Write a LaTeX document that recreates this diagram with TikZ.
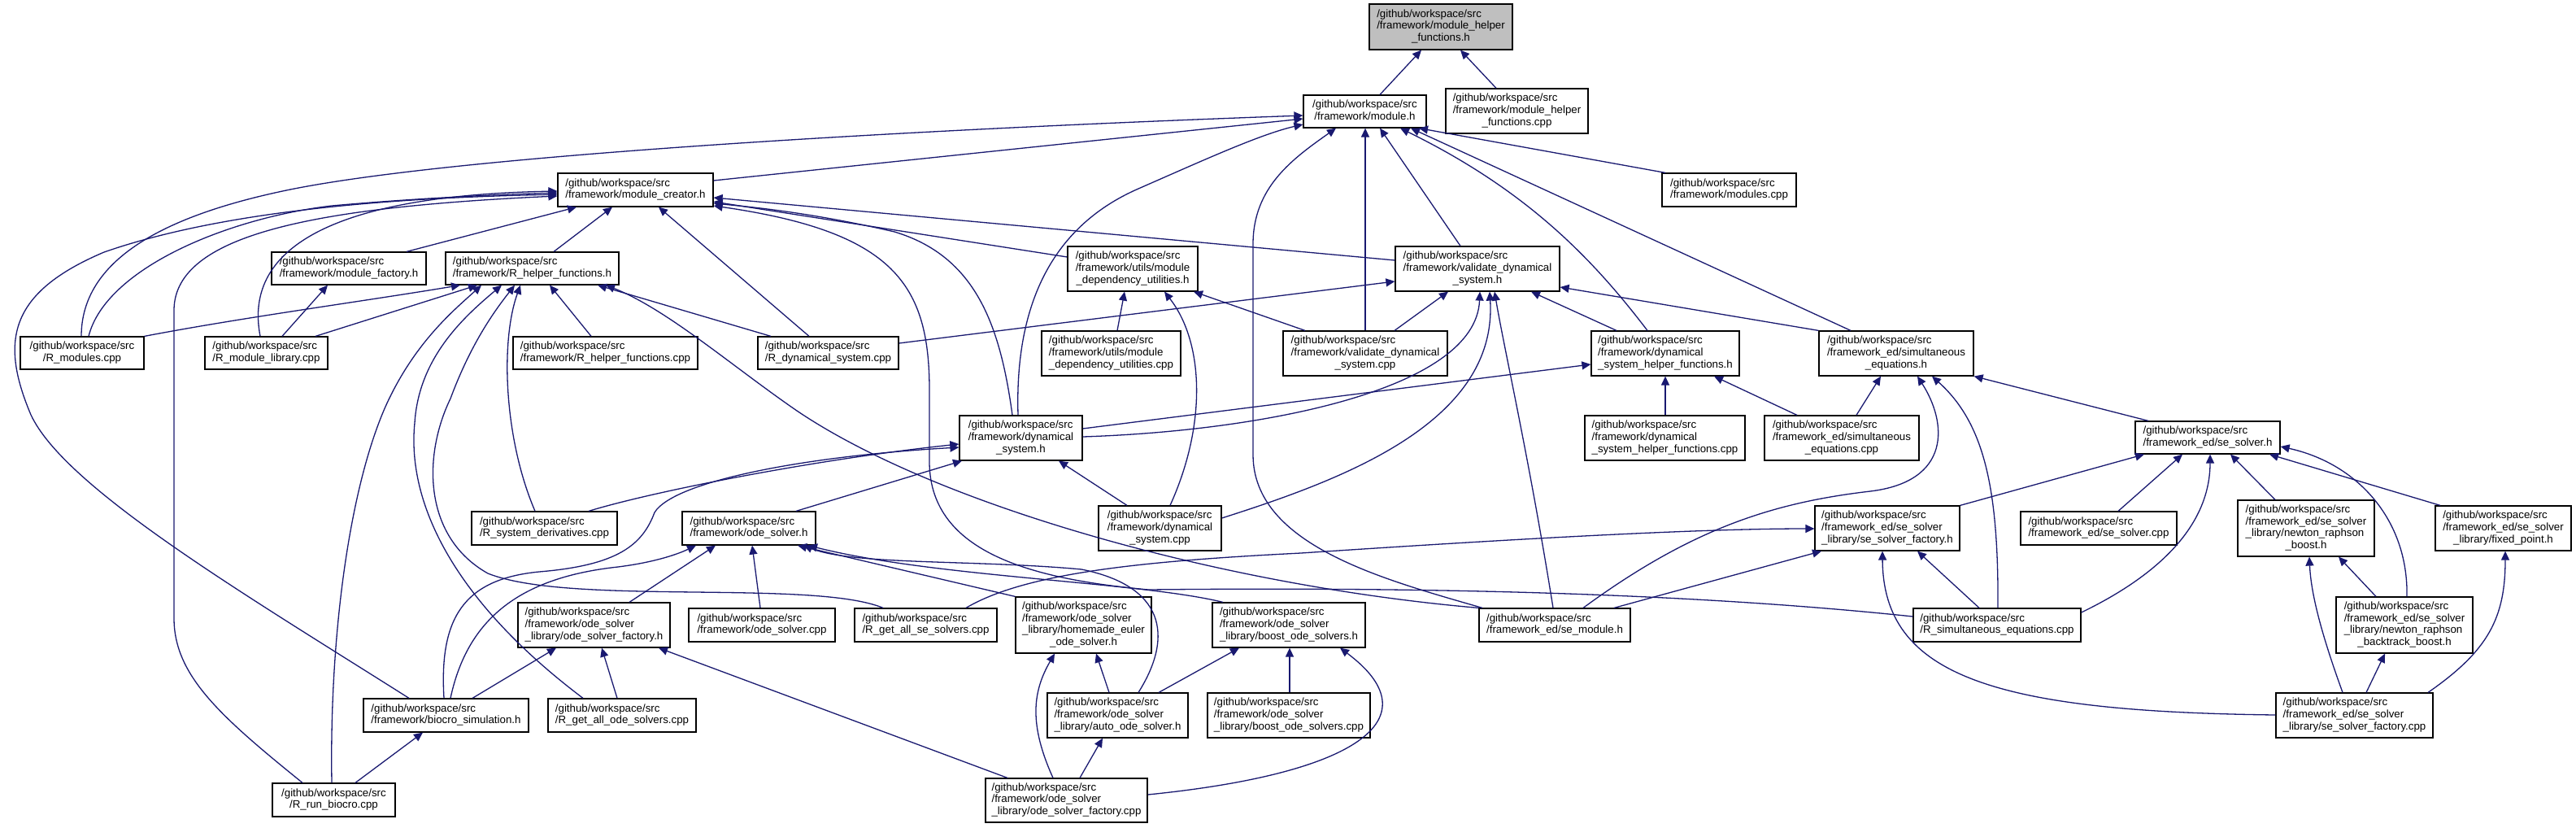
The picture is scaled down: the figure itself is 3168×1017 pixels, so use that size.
\documentclass[tikz,border=0pt]{standalone}
\usepackage{fontspec}
\setmainfont{Liberation Sans}
\usetikzlibrary{arrows.meta}
\definecolor{edgecol}{HTML}{191970}
\definecolor{topfill}{HTML}{BFBFBF}
\newcommand{\lab}[2]{\begin{tabular}{@{}l@{}}#1\\\multicolumn{1}{@{}c@{}}{#2}\end{tabular}}
\begin{document}
\begin{tikzpicture}[x=0.5pt,y=-0.5pt,
  box/.style={draw=black,line width=0.6pt,fill=white,inner sep=0pt,font=\fontsize{6.65pt}{7.35pt}\selectfont},
  e/.style={draw=edgecol,line width=0.65pt,-{Triangle[length=5.5pt,width=5pt]}}]
\fill[white] (0,0) rectangle (3168,1017);
\useasboundingbox (0,0) rectangle (3168,1017);
% nodes
\node[box,fill=topfill,minimum width=88pt,minimum height=28pt] (mhfh) at (1772,33) {\lab{/github/workspace/src\\/framework/module\_helper}{\_functions.h}};
\node[box,minimum width=75.5pt,minimum height=20pt] (moduleh) at (1678.5,137) {\lab{/github/workspace/src}{/framework/module.h}};
\node[box,minimum width=87.5pt,minimum height=27.5pt] (mhfcpp) at (1865.5,136.5) {\lab{/github/workspace/src\\/framework/module\_helper}{\_functions.cpp}};
\node[box,minimum width=95.5pt,minimum height=20.5pt] (creator) at (781.5,233.5) {\lab{/github/workspace/src}{/framework/module\_creator.h}};
\node[box,minimum width=82.5pt,minimum height=20.5pt] (modulescpp) at (2126.5,233.5) {\lab{/github/workspace/src}{/framework/modules.cpp}};
\node[box,minimum width=95pt,minimum height=20pt] (factory) at (429,330) {\lab{/github/workspace/src}{/framework/module\_factory.h}};
\node[box,minimum width=106.5pt,minimum height=20pt] (rhelper) at (654.5,330) {\lab{/github/workspace/src}{/framework/R\_helper\_functions.h}};
\node[box,minimum width=80pt,minimum height=27.5pt] (moddeph) at (1393,330.5) {\lab{/github/workspace/src\\/framework/utils/module}{\_dependency\_utilities.h}};
\node[box,minimum width=101pt,minimum height=27.5pt] (validh) at (1817,330.5) {\lab{/github/workspace/src\\/framework/validate\_dynamical}{\_system.h}};
\node[box,minimum width=76pt,minimum height=20pt] (rmodules) at (101,434) {\lab{/github/workspace/src}{/R\_modules.cpp}};
\node[box,minimum width=75.5pt,minimum height=20pt] (rmodlib) at (327.5,434) {\lab{/github/workspace/src}{/R\_module\_library.cpp}};
\node[box,minimum width=113.5pt,minimum height=20pt] (rhelpercpp) at (744.5,434) {\lab{/github/workspace/src}{/framework/R\_helper\_functions.cpp}};
\node[box,minimum width=86.5pt,minimum height=20pt] (rdyncpp) at (1018.5,434) {\lab{/github/workspace/src}{/R\_dynamical\_system.cpp}};
\node[box,minimum width=85.5pt,minimum height=27.5pt] (moddepcpp) at (1366.5,434.5) {\lab{/github/workspace/src\\/framework/utils/module}{\_dependency\_utilities.cpp}};
\node[box,minimum width=101pt,minimum height=27.5pt] (validcpp) at (1679,434.5) {\lab{/github/workspace/src\\/framework/validate\_dynamical}{\_system.cpp}};
\node[box,minimum width=91pt,minimum height=27.5pt] (dynhelperh) at (2048,434.5) {\lab{/github/workspace/src\\/framework/dynamical}{\_system\_helper\_functions.h}};
\node[box,minimum width=95pt,minimum height=27.5pt] (simeqh) at (2332,434.5) {\lab{/github/workspace/src\\/framework\_ed/simultaneous}{\_equations.h}};
\node[box,minimum width=75.5pt,minimum height=27.5pt] (dynh) at (1255.5,538.5) {\lab{/github/workspace/src\\/framework/dynamical}{\_system.h}};
\node[box,minimum width=98.5pt,minimum height=27.5pt] (dynhelpercpp) at (2047.5,538.5) {\lab{/github/workspace/src\\/framework/dynamical}{\_system\_helper\_functions.cpp}};
\node[box,minimum width=95pt,minimum height=27.5pt] (simeqcpp) at (2265,538.5) {\lab{/github/workspace/src\\/framework\_ed/simultaneous}{\_equations.cpp}};
\node[box,minimum width=89pt,minimum height=20pt] (sesolverh) at (2715,538) {\lab{/github/workspace/src}{/framework\_ed/se\_solver.h}};
\node[box,minimum width=89.5pt,minimum height=20.5pt] (rsysder) at (669.5,649.5) {\lab{/github/workspace/src}{/R\_system\_derivatives.cpp}};
\node[box,minimum width=82pt,minimum height=20.5pt] (odesolverh) at (921,649.5) {\lab{/github/workspace/src}{/framework/ode\_solver.h}};
\node[box,minimum width=75.5pt,minimum height=27.5pt] (dyncpp) at (1426.5,649.5) {\lab{/github/workspace/src\\/framework/dynamical}{\_system.cpp}};
\node[box,minimum width=89pt,minimum height=27.5pt] (sefactoryh) at (2321,649.5) {\lab{/github/workspace/src\\/framework\_ed/se\_solver}{\_library/se\_solver\_factory.h}};
\node[box,minimum width=96pt,minimum height=20.5pt] (sesolvercpp) at (2581,649.5) {\lab{/github/workspace/src}{/framework\_ed/se\_solver.cpp}};
\node[box,minimum width=84pt,minimum height=34.5pt] (nrboost) at (2836,649.5) {\lab{/github/workspace/src\\/framework\_ed/se\_solver\\\_library/newton\_raphson}{\_boost.h}};
\node[box,minimum width=83.5pt,minimum height=27.5pt] (fixedpoint) at (3078.5,649.5) {\lab{/github/workspace/src\\/framework\_ed/se\_solver}{\_library/fixed\_point.h}};
\node[box,minimum width=93.5pt,minimum height=27.5pt] (odefactoryh) at (730.5,768.5) {\lab{/github/workspace/src\\/framework/ode\_solver}{\_library/ode\_solver\_factory.h}};
\node[box,minimum width=90pt,minimum height=20.5pt] (odesolvercpp) at (937,768.5) {\lab{/github/workspace/src}{/framework/ode\_solver.cpp}};
\node[box,minimum width=87.5pt,minimum height=20.5pt] (rgetse) at (1138.5,768.5) {\lab{/github/workspace/src}{/R\_get\_all\_se\_solvers.cpp}};
\node[box,minimum width=83.5pt,minimum height=34.5pt] (homemade) at (1332.5,768.5) {\lab{/github/workspace/src\\/framework/ode\_solver\\\_library/homemade\_euler}{\_ode\_solver.h}};
\node[box,minimum width=94pt,minimum height=27.5pt] (boosth) at (1585,768.5) {\lab{/github/workspace/src\\/framework/ode\_solver}{\_library/boost\_ode\_solvers.h}};
\node[box,minimum width=93pt,minimum height=20.5pt] (semodule) at (1912,768.5) {\lab{/github/workspace/src}{/framework\_ed/se\_module.h}};
\node[box,minimum width=103pt,minimum height=20.5pt] (rsimeq) at (2456,768.5) {\lab{/github/workspace/src}{/R\_simultaneous\_equations.cpp}};
\node[box,minimum width=84pt,minimum height=34.5pt] (nrback) at (2957,768.5) {\lab{/github/workspace/src\\/framework\_ed/se\_solver\\\_library/newton\_raphson}{\_backtrack\_boost.h}};
\node[box,minimum width=101.5pt,minimum height=20.5pt] (biocro) at (548.5,879.5) {\lab{/github/workspace/src}{/framework/biocro\_simulation.h}};
\node[box,minimum width=91pt,minimum height=20.5pt] (rgetode) at (765,879.5) {\lab{/github/workspace/src}{/R\_get\_all\_ode\_solvers.cpp}};
\node[box,minimum width=86.5pt,minimum height=27.5pt] (autoh) at (1374.5,879.5) {\lab{/github/workspace/src\\/framework/ode\_solver}{\_library/auto\_ode\_solver.h}};
\node[box,minimum width=100pt,minimum height=27.5pt] (boostcpp) at (1585,879.5) {\lab{/github/workspace/src\\/framework/ode\_solver}{\_library/boost\_ode\_solvers.cpp}};
\node[box,minimum width=96.5pt,minimum height=27.5pt] (sefactorycpp) at (2895.5,879.5) {\lab{/github/workspace/src\\/framework\_ed/se\_solver}{\_library/se\_solver\_factory.cpp}};
\node[box,minimum width=75.5pt,minimum height=20.5pt] (rrun) at (410.5,983.5) {\lab{/github/workspace/src}{/R\_run\_biocro.cpp}};
\node[box,minimum width=99.5pt,minimum height=27pt] (odefactorycpp) at (1311.5,984) {\lab{/github/workspace/src\\/framework/ode\_solver}{\_library/ode\_solver\_factory.cpp}};
% edges
\draw[e] (moduleh.north -| 1697,0) -- (mhfh.south -| 1748,0);
\draw[e] (mhfcpp.north -| 1840,0) -- (mhfh.south -| 1796,0);
\draw[e] (creator.east |- 0,222) -- (moduleh.west |- 0,146);
\draw[e] (rmodules.north -| 100,0) .. controls (100,320) and (200,265) .. (357,233) .. controls (560,192) and (1100,160) .. (moduleh.west |- 0,142);
\draw[e] (dynh.north -| 1252,0) .. controls (1248,380) and (1290,280) .. (1400,232) .. controls (1480,197) and (1550,165) .. (moduleh.west |- 0,153);
\draw[e] (semodule.north -| 1823,0) .. controls (1700,712) and (1542,670) .. (1541,560) -- (1541,300) .. controls (1541,230) and (1590,195) .. (moduleh.south -| 1643,0);
\draw[e] (validcpp.north -| 1679,0) -- (moduleh.south -| 1679,0);
\draw[e] (validh.north -| 1796,0) -- (moduleh.south -| 1697,0);
\draw[e] (dynhelperh.north -| 2026,0) .. controls (1960,320) and (1880,235) .. (moduleh.south -| 1722,0);
\draw[e] (simeqh.north -| 2276,0) -- (moduleh.south -| 1735,0);
\draw[e] (modulescpp.north -| 2048,0) -- (moduleh.south -| 1745,0);
\draw[e] (rmodules.north -| 109,0) .. controls (130,330) and (280,268) .. (408,253) .. controls (520,243) and (620,239) .. (creator.west |- 0,237);
\draw[e] (biocro.north -| 503,0) .. controls (300,730) and (80,600) .. (38,510) .. controls (0,420) and (10,360) .. (128,310) .. controls (300,250) and (550,242) .. (creator.west |- 0,239);
\draw[e] (rrun.north -| 372,0) .. controls (270,880) and (214,830) .. (214,760) -- (214,380) .. controls (216,290) and (380,255) .. (creator.west |- 0,241);
\draw[e] (rmodlib.north -| 320,0) .. controls (298,300) and (420,240) .. (creator.west |- 0,235);
\draw[e] (factory.north -| 500,0) -- (creator.south -| 709,0);
\draw[e] (rhelper.north -| 681,0) -- (creator.south -| 753,0);
\draw[e] (rdyncpp.north -| 995,0) -- (creator.south -| 810,0);
\draw[e] (validh.west |- 0,320) -- (creator.east |- 0,243);
\draw[e] (moddeph.west |- 0,316) -- (creator.east |- 0,248);
\draw[e] (dynh.north -| 1245,0) .. controls (1230,400) and (1200,315) .. (1100,285) .. controls (1000,262) and (930,255) .. (creator.east |- 0,250);
\draw[e] (rsimeq.west |- 0,758) .. controls (2050,726) and (1700,722) .. (1412,725) .. controls (1270,712) and (1145,680) .. (1143,570) -- (1143,480) .. controls (1143,350) and (1100,285) .. (creator.east |- 0,253);
\draw[e] (moddepcpp.north -| 1374,0) -- (moddeph.south -| 1383,0);
\draw[e] (dyncpp.north -| 1439,0) .. controls (1485,520) and (1480,420) .. (moddeph.south -| 1432,0);
\draw[e] (validcpp.north -| 1605,0) -- (moddeph.south -| 1468,0);
\draw[e] (rdyncpp.east |- 0,422) -- (validh.west |- 0,346);
\draw[e] (validcpp.north -| 1715,0) -- (validh.south -| 1781,0);
\draw[e] (dynh.east |- 0,537) .. controls (1550,530) and (1815,480) .. (validh.south -| 1820,0);
\draw[e] (dyncpp.east |- 0,637) .. controls (1650,590) and (1842,520) .. (validh.south -| 1832,0);
\draw[e] (semodule.north -| 1910,0) .. controls (1880,560) and (1850,430) .. (validh.south -| 1838,0);
\draw[e] (dynhelperh.north -| 1988,0) -- (validh.south -| 1883,0);
\draw[e] (simeqh.north west) -- (validh.east |- 0,353);
\draw[e] (dynh.east |- 0,527) -- (dynhelperh.west |- 0,448);
\draw[e] (dynhelpercpp.north -| 2048,0) -- (dynhelperh.south -| 2048,0);
\draw[e] (simeqcpp.north -| 2210,0) -- (dynhelperh.south -| 2108,0);
\draw[e] (simeqcpp.north -| 2283,0) -- (simeqh.south -| 2313,0);
\draw[e] (semodule.north -| 1947,0) .. controls (2080,650) and (2180,618) .. (2300,604) .. controls (2400,592) and (2395,520) .. (simeqh.south -| 2358,0);
\draw[e] (rsimeq.north -| 2457,0) .. controls (2458,600) and (2440,520) .. (simeqh.south -| 2376,0);
\draw[e] (sesolverh.north -| 2642,0) -- (simeqh.south east);
\draw[e] (sefactoryh.north east) -- (sesolverh.south -| 2637,0);
\draw[e] (sesolvercpp.north -| 2605,0) -- (sesolverh.south -| 2684,0);
\draw[e] (rsimeq.east |- 0,753) .. controls (2690,690) and (2718,620) .. (sesolverh.south -| 2718,0);
\draw[e] (nrboost.north -| 2798,0) -- (sesolverh.south -| 2743,0);
\draw[e] (fixedpoint.north -| 3001,0) -- (sesolverh.south -| 2791,0);
\draw[e] (nrback.north -| 2960,0) .. controls (2962,640) and (2900,570) .. (sesolverh.east |- 0,549);
\draw[e] (rgetse.north -| 1188,0) .. controls (1260,705) and (1400,690) .. (1600,680) .. controls (1900,660) and (2100,650) .. (sefactoryh.west |- 0,650);
\draw[e] (semodule.north -| 1985,0) -- (sefactoryh.south -| 2240,0);
\draw[e] (sefactorycpp.west |- 0,879) .. controls (2450,875) and (2316,830) .. (sefactoryh.south -| 2315,0);
\draw[e] (rsimeq.north -| 2434,0) -- (sefactoryh.south -| 2358,0);
\draw[e] (sefactorycpp.north -| 2881,0) .. controls (2855,780) and (2842,730) .. (nrboost.south -| 2840,0);
\draw[e] (nrback.north -| 2922,0) -- (nrboost.south -| 2876,0);
\draw[e] (sefactorycpp.north -| 2910,0) -- (nrback.south -| 2933,0);
\draw[e] (sefactorycpp.north -| 2986,0) .. controls (3060,800) and (3081,760) .. (fixedpoint.south -| 3081,0);
\draw[e] (rsysder.north -| 724,0) .. controls (800,605) and (1000,565) .. (dynh.west |- 0,546);
\draw[e] (biocro.north -| 546,0) .. controls (540,760) and (570,712) .. (663,703) .. controls (760,695) and (790,670) .. (805,630) .. controls (830,590) and (1000,560) .. (dynh.west |- 0,550);
\draw[e] (odesolverh.north -| 979,0) -- (dynh.south -| 1183,0);
\draw[e] (dyncpp.north -| 1386,0) -- (dynh.south -| 1302,0);
\draw[e] (biocro.north -| 554,0) .. controls (575,760) and (640,710) .. (760,697) .. controls (800,692) and (830,683) .. (odesolverh.south -| 856,0);
\draw[e] (odefactoryh.north -| 774,0) -- (odesolverh.south -| 880,0);
\draw[e] (odesolvercpp.north -| 935,0) -- (odesolverh.south -| 925,0);
\draw[e] (homemade.north west) -- (odesolverh.south -| 981,0);
\draw[e] (autoh.north -| 1400,0) .. controls (1445,780) and (1430,720) .. (1330,700) .. controls (1200,688) and (1050,695) .. (odesolverh.south -| 988,0);
\draw[e] (boosth.north -| 1504,0) .. controls (1400,715) and (1150,710) .. (odesolverh.south -| 994,0);
\draw[e] (odefactorycpp.north -| 1295,0) .. controls (1265,890) and (1270,850) .. (homemade.south -| 1297,0);
\draw[e] (autoh.north -| 1364,0) -- (homemade.south -| 1348,0);
\draw[e] (autoh.north -| 1425,0) -- (boosth.south -| 1524,0);
\draw[e] (boostcpp.north -| 1586,0) -- (boosth.south -| 1586,0);
\draw[e] (odefactorycpp.east |- 0,977) .. controls (1680,950) and (1760,880) .. (boosth.south -| 1648,0);
\draw[e] (odefactorycpp.north -| 1328,0) -- (autoh.south -| 1356,0);
\draw[e] (biocro.north -| 581,0) -- (odefactoryh.south -| 684,0);
\draw[e] (rgetode.north -| 759,0) -- (odefactoryh.south -| 740,0);
\draw[e] (odefactorycpp.north -| 1239,0) -- (odefactoryh.south -| 810,0);
\draw[e] (rrun.north -| 437,0) -- (biocro.south -| 520,0);
\draw[e] (rmodules.north east) .. controls (300,390) and (450,370) .. (rhelper.south -| 566,0);
\draw[e] (rmodlib.north -| 388,0) -- (rhelper.south -| 587,0);
\draw[e] (rhelpercpp.north -| 727,0) -- (rhelper.south -| 676,0);
\draw[e] (rdyncpp.north -| 948,0) -- (rhelper.south -| 735,0);
\draw[e] (semodule.north west) .. controls (1500,720) and (1150,620) .. (980,505) .. controls (900,450) and (820,380) .. (rhelper.south -| 745,0);
\draw[e] (rrun.north -| 408,0) .. controls (405,780) and (430,600) .. (474,500) .. controls (510,420) and (560,380) .. (rhelper.south -| 592,0);
\draw[e] (rgetode.north -| 717,0) .. controls (560,740) and (500,620) .. (510,520) .. controls (515,440) and (570,390) .. (rhelper.south -| 617,0);
\draw[e] (rgetse.north -| 1086,0) .. controls (1000,712) and (700,745) .. (600,705) .. controls (520,660) and (520,560) .. (554,490) .. controls (580,420) and (610,380) .. (rhelper.south -| 633,0);
\draw[e] (rsysder.north -| 658,0) .. controls (620,540) and (615,420) .. (rhelper.south -| 640,0);
\draw[e] (rmodlib.north -| 347,0) -- (factory.south -| 403,0);
\end{tikzpicture}
\end{document}
